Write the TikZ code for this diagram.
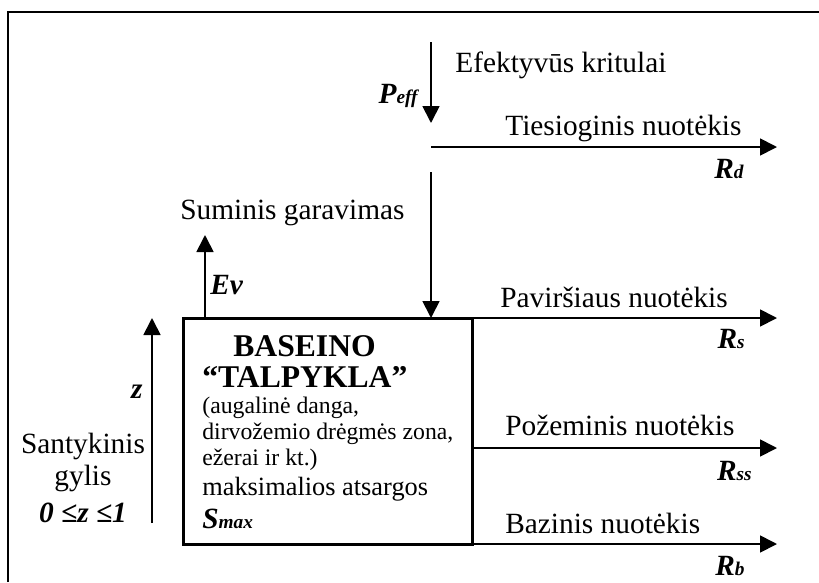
\documentclass[tikz,border=0pt]{standalone}
\usepackage{fontspec}
\setmainfont{Liberation Serif}
\usetikzlibrary{arrows.meta}
\newcommand{\lowidx}[1]{{\fontsize{11}{11}\selectfont#1}}

\begin{document}
\begin{tikzpicture}[x=0.2mm,y=-0.2mm,
    lbl/.style={inner sep=0pt,font=\fontsize{16.7}{18.2}\selectfont},
    sym/.style={inner sep=0pt,font=\fontsize{16.7}{18.2}\selectfont\bfseries\itshape},
    tank/.style={draw,line width=0.6mm,outer sep=0pt,inner sep=0pt,
    minimum width=57.6mm,minimum height=45.2mm},
    tanktext/.style={inner sep=0pt,text width=52mm,align=flush left,
    font=\fontsize{13.5}{14.8}\selectfont},
    arr/.style={-{Triangle[length=3.4mm,width=3.4mm]},line width=0.35mm}]
    \useasboundingbox (0,0) rectangle (819,582);
    \draw[line width=0.4mm] (8,582) -- (8,12) -- (819,12);
    \node[tank] (basin) at (328,431) {};
    \node[tanktext,anchor=west] (basintext) at (202,432) {\hspace*{6.2mm}{\fontsize{18}{18}\selectfont\bfseries BASEINO}\\[2.8pt]
    {\fontsize{18}{18}\selectfont\bfseries “TALPYKLA”}\\
    (augalinė danga,\\
    dirvožemio drėgmės zona,\\
    ežerai ir kt.)\\[2.3pt]
    {\fontsize{15}{15}\selectfont maksimalios atsargos}\\[4pt]
    {\fontsize{16.7}{16.7}\selectfont\bfseries\itshape S\lowidx{max}}};
    \node[lbl,anchor=base west] (rain) at (455,72) {Efektyvūs kritulai};
    \node[sym,anchor=base east] (peff) at (418,103) {P\lowidx{eff}};
    \node[lbl,anchor=base west] (direct) at (505,135) {Tiesioginis nuotėkis};
    \node[sym,anchor=base east] (rd) at (744,178) {R\lowidx{d}};
    \node[lbl,anchor=base west] (evap) at (180,219) {Suminis garavimas};
    \node[sym,anchor=base west] (ev) at (210,294) {Ev};
    \node[lbl,anchor=base west] (surf) at (500,307) {Paviršiaus nuotėkis};
    \node[sym,anchor=base east] (rs) at (745,348) {R\lowidx{s}};
    \node[lbl,anchor=base west] (under) at (505,435) {Požeminis nuotėkis};
    \node[sym,anchor=base east] (rss) at (752,480) {R\lowidx{ss}};
    \node[lbl,anchor=base west] (baseflow) at (505,533) {Bazinis nuotėkis};
    \node[sym,anchor=base east] (rb) at (745,575) {R\lowidx{b}};
    \node[sym,anchor=base east] (zl) at (143,398) {z};
    \node[lbl,align=center,anchor=base] (depth) at (83,522) {Santykinis\\gylis\\[2.8pt]{\bfseries\itshape 0 ≤z ≤1}};
    \coordinate (rainTop) at (431,42);
    \coordinate (rainTip) at (431,123);
    \coordinate (directFoot) at (431,147);
    \coordinate (directTip) at (777,147);
    \coordinate (inTop) at (431,172);
    \coordinate (evTip) at (205,235);
    \coordinate (zFoot) at (152,523);
    \coordinate (zTip) at (152,318);
    \coordinate (rsTip) at (777,318);
    \coordinate (rssTip) at (777,448);
    \coordinate (rbTip) at (777,544);
    \draw[arr] (rainTop) -- (rainTip);
    \draw[arr] (directFoot) -- (directTip);
    \draw[arr] (inTop) -- (inTop |- basin.north);
    \draw[arr] (evTip |- basin.north) -- (evTip);
    \draw[arr] (zFoot) -- (zTip);
    \draw[arr] (basin.north east) -- (rsTip);
    \draw[arr] (basin.east |- rssTip) -- (rssTip);
    \draw[arr] (basin.south east) -- (rbTip);
  \end{tikzpicture}
\end{document}
